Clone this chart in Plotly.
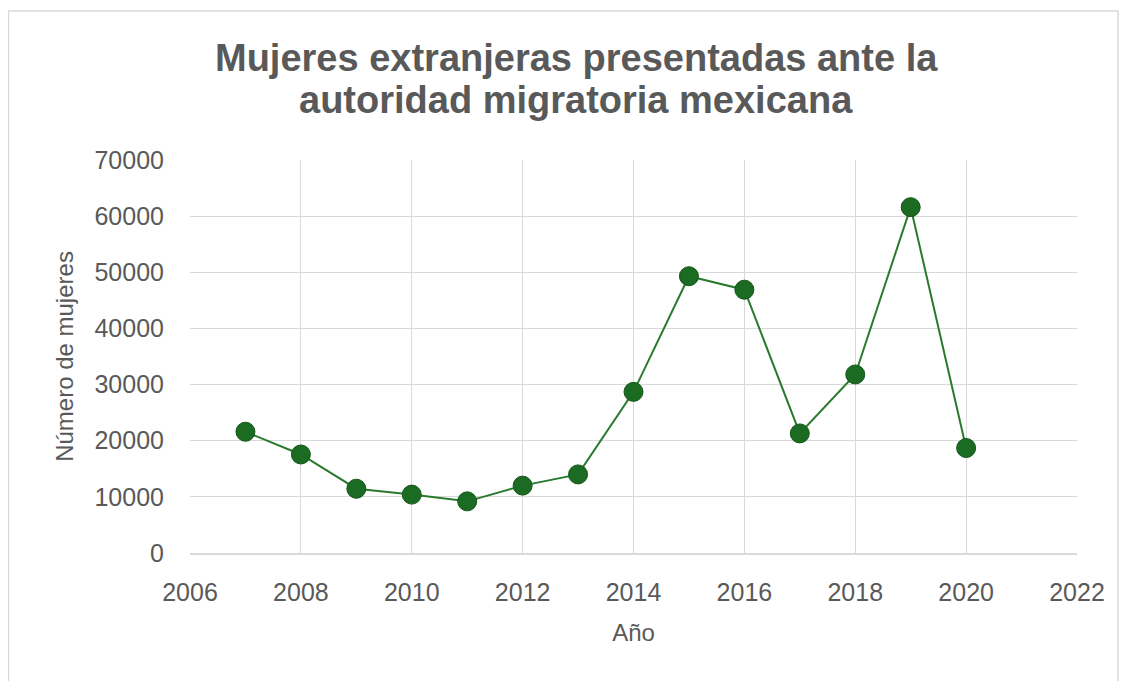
import plotly.graph_objects as go

years = [2007, 2008, 2009, 2010, 2011, 2012, 2013, 2014, 2015, 2016, 2017, 2018, 2019, 2020]
mujeres = [21600, 17550, 11450, 10400, 9200, 12000, 14000, 28700, 49300, 46900, 21300, 31800, 61600, 18700]
x_ticks = [2006, 2008, 2010, 2012, 2014, 2016, 2018, 2020, 2022]
y_ticks = [0, 10000, 20000, 30000, 40000, 50000, 60000, 70000]
title_lines = ["Mujeres extranjeras presentadas ante la", "autoridad migratoria mexicana"]

W, H = 1123, 673
L, R, T, B = 182, 54, 152, 128
pw, ph = W - L - R, H - T - B

def px(x):
    return (x - L) / pw

def py(y):
    return (H - B - y) / ph

fig = go.Figure()
fig.add_trace(go.Scatter(
    x=years, y=mujeres, mode="lines+markers",
    line=dict(color="#2A7A2E", width=2),
    marker=dict(size=19, color="#1B6B22", line=dict(color="#14561A", width=1)),
    showlegend=False, cliponaxis=False,
))

font_family = "Liberation Sans, Arial, sans-serif"
grey = "#595959"
fig.update_layout(
    width=W, height=H,
    margin=dict(l=L, r=R, t=T, b=B),
    paper_bgcolor="white", plot_bgcolor="white",
    xaxis=dict(
        range=[2006, 2022], tickvals=x_ticks, ticktext=[str(v) for v in x_ticks],
        showgrid=True, gridcolor="#D9D9D9", gridwidth=1,
        showline=True, linecolor="#D9D9D9", linewidth=1.5,
        zeroline=False, ticks="", ticklen=0, ticklabelstandoff=16,
        tickfont=dict(family=font_family, size=25, color=grey),
        title=dict(text="Año", standoff=19, font=dict(family=font_family, size=24, color=grey)),
    ),
    yaxis=dict(
        range=[0, 70000], tickvals=y_ticks, ticktext=[str(v) for v in y_ticks],
        showgrid=True, gridcolor="#D9D9D9", gridwidth=1,
        showline=False, zeroline=False, ticks="", ticklabelstandoff=25,
        tickfont=dict(family=font_family, size=25, color=grey),
        title=dict(text="Número de mujeres", standoff=14, font=dict(family=font_family, size=24, color=grey)),
    ),
    shapes=[dict(
        type="rect", xref="paper", yref="paper",
        x0=px(0.5), x1=px(1110), y0=py(700), y1=py(3),
        line=dict(color="#D9D9D9", width=1.5), fillcolor="rgba(0,0,0,0)", layer="below",
    )],
)

for i, (line_text, yc) in enumerate(zip(title_lines, [50, 92])):
    fig.add_annotation(
        text="<b>" + line_text + "</b>", xref="paper", yref="paper",
        x=px(568), y=py(yc), xanchor="center", yanchor="middle", showarrow=False,
        font=dict(family=font_family, size=38, color=grey),
    )

fig.write_html("out.html")
